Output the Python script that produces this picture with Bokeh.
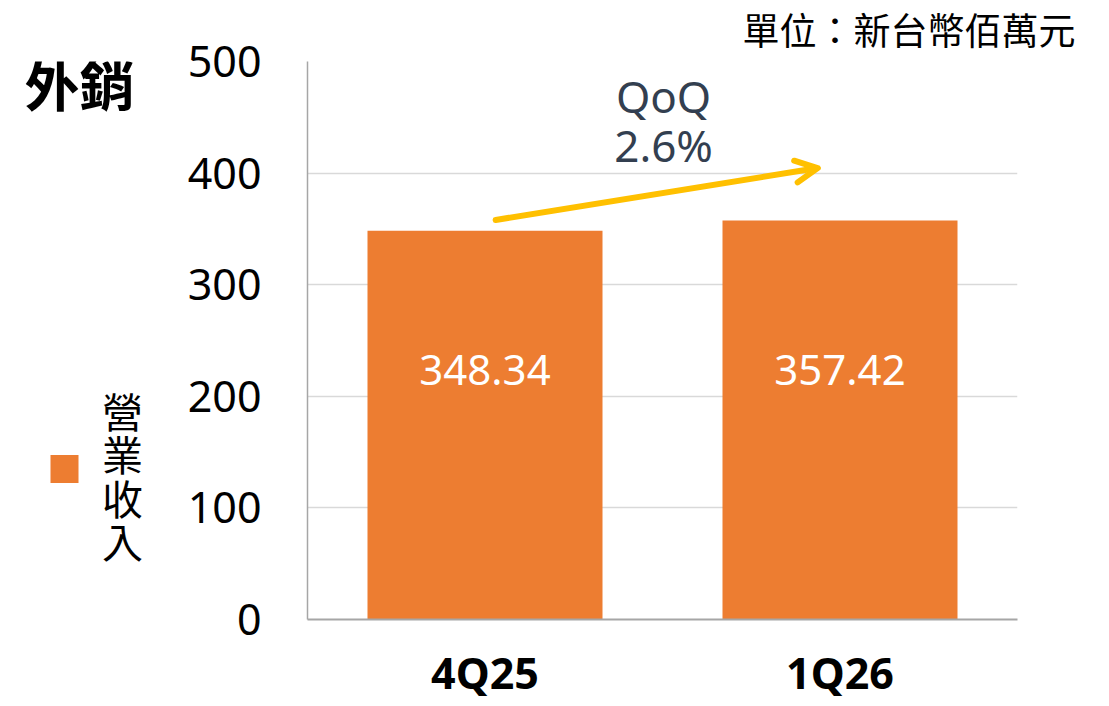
from bokeh.plotting import figure
from bokeh.layouts import row
from bokeh.models import (FactorRange, Range1d, Label, LabelSet, Arrow, OpenHead,
                          ColumnDataSource, FixedTicker)
from bokeh.core.properties import value
from bokeh.embed import file_html
from bokeh.resources import INLINE

# ---- data ----
categories = ["4Q25", "1Q26"]
revenue = [348.34, 357.42]
value_labels = ["348.34", "357.42"]
y_ticks = [0, 100, 200, 300, 400, 500]
qoq_title = "QoQ"
qoq_value = "2.6%"
series_name = "營業收入"
panel_title = "外銷"
unit_note = "單位：新台幣佰萬元"

BAR = "#ed7d31"
ARROW = "#ffc000"
SLATE = "#333f50"
LATIN = "Noto Sans"
CJK = "Noto Sans CJK TC"

H = 704
TOP, BOTTOM = 60, 620   # frame edges (page px)
LW = 180                # width of left side panel (title + legend)
MW = 920                # width of main chart

# ---------------- left panel: title + legend ----------------
side = figure(width=LW, height=H, x_range=Range1d(0, LW),
              y_range=Range1d(BOTTOM, TOP),
              x_axis_location=None, y_axis_location=None,
              min_border_left=0, min_border_right=0,
              min_border_top=TOP, min_border_bottom=H - BOTTOM,
              output_backend="svg", toolbar_location=None)
side.outline_line_color = None
side.grid.grid_line_color = None
side.background_fill_color = "white"
side.border_fill_color = "white"

side.text(x=[79], y=[81], text=[panel_title], text_align="center",
          text_baseline="middle", text_color="black", text_font=value(CJK),
          text_font_style="bold", text_font_size="55px")
side.rect(x=[64], y=[469], width=28, height=28, fill_color=BAR, line_color=None)
pitch = 43.5
chars = list(series_name)
side.text(x=[122] * len(chars), y=[388 + pitch * (i + 0.5) for i in range(len(chars))],
          text=chars, text_align="center", text_baseline="middle",
          text_color="black", text_font=value(CJK), text_font_size="41px")

# ---------------- main chart ----------------
src = ColumnDataSource(dict(cat=categories, val=revenue, lbl=value_labels))

p = figure(width=MW, height=H,
           x_range=FactorRange(*categories, range_padding=0),
           y_range=Range1d(0, 500),
           output_backend="svg", toolbar_location=None,
           min_border_left=307 - LW, min_border_right=LW + MW - 1017,
           min_border_top=TOP, min_border_bottom=H - BOTTOM)
p.outline_line_color = None
p.background_fill_color = "white"
p.border_fill_color = "white"

p.title.text = unit_note
p.title.align = "right"
p.title.vertical_align = "top"
p.title.standoff = 8
p.title.text_font = "Noto Sans, Noto Sans CJK TC"
p.title.text_font_size = "37px"
p.title.text_font_style = "normal"
p.title.text_color = "black"
p.title.offset = -58

p.vbar(x="cat", top="val", width=0.662, source=src,
       fill_color=BAR, line_color=None)

p.add_layout(LabelSet(x="cat", y=224, text="lbl", source=src,
                      text_align="center", text_baseline="middle",
                      text_color="white", text_font=value(LATIN),
                      text_font_size="42px"))

# axes
p.yaxis.ticker = FixedTicker(ticks=y_ticks)
p.yaxis.major_tick_line_color = None
p.yaxis.minor_tick_line_color = None
p.yaxis.axis_line_color = "#a6a6a6"
p.yaxis.axis_line_width = 1.5
p.yaxis.major_label_text_font = LATIN
p.yaxis.major_label_text_font_size = "43px"
p.yaxis.major_label_text_color = "black"
p.yaxis.major_label_standoff = 40

p.xaxis.major_tick_line_color = None
p.xaxis.minor_tick_line_color = None
p.xaxis.axis_line_color = "#a6a6a6"
p.xaxis.axis_line_width = 2
p.xaxis.major_label_text_font = LATIN
p.xaxis.major_label_text_font_size = "43px"
p.xaxis.major_label_text_font_style = "bold"
p.xaxis.major_label_text_color = "black"
p.xaxis.major_label_standoff = 17

p.xgrid.grid_line_color = None
p.ygrid.grid_line_color = "#d9d9d9"
p.ygrid.grid_line_width = 1.5

# QoQ annotation
p.add_layout(Arrow(x_start=0.530, y_start=358, x_end=1.437, y_end=404.5,
                   line_color=ARROW, line_width=6, line_cap="round",
                   end=OpenHead(size=22, line_color=ARROW, line_width=6,
                                line_cap="round", line_join="round")))
p.add_layout(Label(x=1.003, y=469, text=qoq_title, text_align="center",
                   text_baseline="middle", text_color=SLATE, text_font=LATIN,
                   text_font_size="44px"))
p.add_layout(Label(x=1.003, y=425.5, text=qoq_value, text_align="center",
                   text_baseline="middle", text_color=SLATE, text_font=LATIN,
                   text_font_size="44px"))

layout = row(side, p, spacing=0)
open("out.html", "w").write(file_html(layout, INLINE))
